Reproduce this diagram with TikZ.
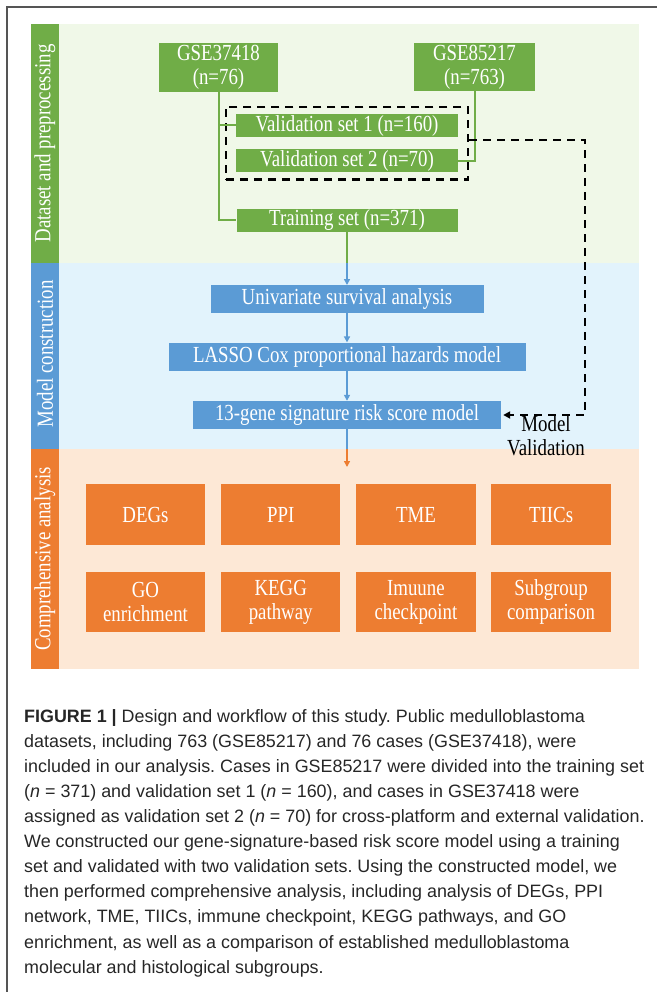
\documentclass[tikz,border=0pt]{standalone}
\usepackage{fontspec}
\setmainfont{Liberation Serif}
\newfontfamily\figfont[FakeStretch=0.82]{Liberation Serif}
\newfontfamily\capfont{Liberation Sans}
\usetikzlibrary{arrows.meta,positioning,calc,fit}
\frenchspacing
\definecolor{dsgreen}{HTML}{70AD47}
\definecolor{mcblue}{HTML}{5B9BD5}
\definecolor{caorange}{HTML}{ED7D31}
\definecolor{dsband}{HTML}{F0F8E8}
\definecolor{mcband}{HTML}{E2F3FC}
\definecolor{caband}{HTML}{FDE8D6}
\definecolor{framegray}{HTML}{555555}
\tikzset{
  gbox/.style={fill=dsgreen, text=white, align=center, inner sep=0pt, font=\figfont\fontsize{23}{24}\selectfont},
  bbox/.style={gbox, fill=mcblue, minimum height=28pt},
  obox/.style={gbox, fill=caorange, minimum width=119.5pt, minimum height=60pt},
  sidelabel/.style={rotate=90, text=white, inner sep=0pt, font=\figfont\fontsize{23}{24}\selectfont},
  gline/.style={draw=dsgreen, line width=2pt},
  bline/.style={draw=mcblue, line width=2pt},
  barrow/.style={bline, -{Triangle[length=6pt,width=6pt]}},
  oarrow/.style={draw=caorange, line width=2pt, -{Triangle[length=6pt,width=6pt]}},
  dline/.style={draw=black, line width=2.3pt, dash pattern=on 8pt off 6pt},
  darrow/.style={dline, -{Triangle[length=7pt,width=7pt]}, shorten >=2pt}
}
\begin{document}
\begin{tikzpicture}[x=1pt,y=-1pt]
  \useasboundingbox (0,0) rectangle (657,992);
  % frame and bands
  \draw[framegray, line width=1.5pt] (7,992) -- (7,7) -- (657,7);
  \fill[dsband] (31,24) rectangle (639,263);
  \fill[mcband] (31,263) rectangle (639,449);
  \fill[caband] (31,449) rectangle (639,669);
  \fill[dsgreen] (31,24) rectangle (59,263);
  \fill[mcblue] (31,263) rectangle (59,449);
  \fill[caorange] (31,449) rectangle (59,669);
  \node[sidelabel] (lds) at (45,143.5) {Dataset and preprocessing};
  \node[sidelabel] (lmc) at (45,354) {Model construction};
  \node[sidelabel] (lca) at (45,559) {Comprehensive analysis};
  \coordinate (dsedge) at (0,263);
  \coordinate (mcedge) at (0,449);
  \coordinate (caend) at (0,467);

  % dataset and preprocessing
  \node[gbox, minimum width=119pt, minimum height=49pt] (gseA) at (218.5,67.5) {GSE37418\\(n=76)};
  \node[gbox, minimum width=121pt, minimum height=48pt] (gseB) at (474.5,67) {GSE85217\\(n=763)};
  \node[gbox, minimum width=222pt, minimum height=23pt] (val1) at (347,125.5) {Validation set 1 (n=160)};
  \node[gbox, minimum width=222pt, minimum height=23pt, below=12pt of val1] (val2) {Validation set 2 (n=70)};
  \node[gbox, minimum width=221pt, minimum height=23pt, below=36pt of val2] (train) {Training set (n=371)};
  \node[dline, fit=(val1)(val2), inner xsep=10pt, inner ysep=7pt] (vbox) {};
  \draw[gline] (gseA.south) |- (train.west);
  \draw[gline] (gseA.south |- val1.west) -- (val1.west);
  \draw[gline] (gseB.south) |- (val2.east);

  % model construction
  \node[bbox, minimum width=273pt, below=53pt of train] (uni) {Univariate survival analysis};
  \node[bbox, minimum width=357pt, below=29pt of uni] (lasso) {LASSO Cox proportional hazards model};
  \node[bbox, minimum width=308pt, below=30pt of lasso] (risk) {13-gene signature risk score model};
  \draw[gline] (train.south) -- (train.south |- dsedge);
  \draw[barrow] (train.south |- dsedge) -- (uni.north);
  \draw[barrow] (uni) -- (lasso);
  \draw[barrow] (lasso) -- (risk);
  \draw[darrow] ($(vbox.east)+(0,-3)$) -| ($(risk.east)+(84,0)$) -- (risk.east);
  \node[align=center, inner sep=0pt, font=\figfont\fontsize{23}{24}\selectfont] (mval) at (546,436) {Model\\Validation};

  % comprehensive analysis
  \node[obox, minimum height=61pt] (degs) at (145.5,514.5) {DEGs};
  \node[obox, minimum height=61pt, right=15.3pt of degs] (ppi) {PPI};
  \node[obox, minimum height=61pt, right=15.3pt of ppi] (tme) {TME};
  \node[obox, minimum height=61pt, right=15.3pt of tme] (tiic) {TIICs};
  \node[obox, below=27pt of degs] (go) {GO\\enrichment};
  \node[obox, below=27pt of ppi] (kegg) {KEGG\\pathway};
  \node[obox, below=27pt of tme] (ckpt) {Imuune\\checkpoint};
  \node[obox, below=27pt of tiic] (subg) {Subgroup\\comparison};
  \draw[bline] (risk.south) -- (risk.south |- mcedge);
  \draw[oarrow] (risk.south |- mcedge) -- (risk.south |- caend);

  % caption
  \node[anchor=north west, align=left, inner sep=0pt, text=black!85, font=\capfont\fontsize{17.9}{25.1}\selectfont] (cap) at (24,709) {%
    \textbf{FIGURE 1 |} Design and workflow of this study. Public medulloblastoma\\
    datasets, including 763 (GSE85217) and 76 cases (GSE37418), were\\
    included in our analysis. Cases in GSE85217 were divided into the training set\\
    (\textit{n} = 371) and validation set 1 (\textit{n} = 160), and cases in GSE37418 were\\
    assigned as validation set 2 (\textit{n} = 70) for cross-platform and external validation.\\
    We constructed our gene-signature-based risk score model using a training\\
    set and validated with two validation sets. Using the constructed model, we\\
    then performed comprehensive analysis, including analysis of DEGs, PPI\\
    network, TME, TIICs, immune checkpoint, KEGG pathways, and GO\\
    enrichment, as well as a comparison of established medulloblastoma\\
    molecular and histological subgroups.};
\end{tikzpicture}
\end{document}
